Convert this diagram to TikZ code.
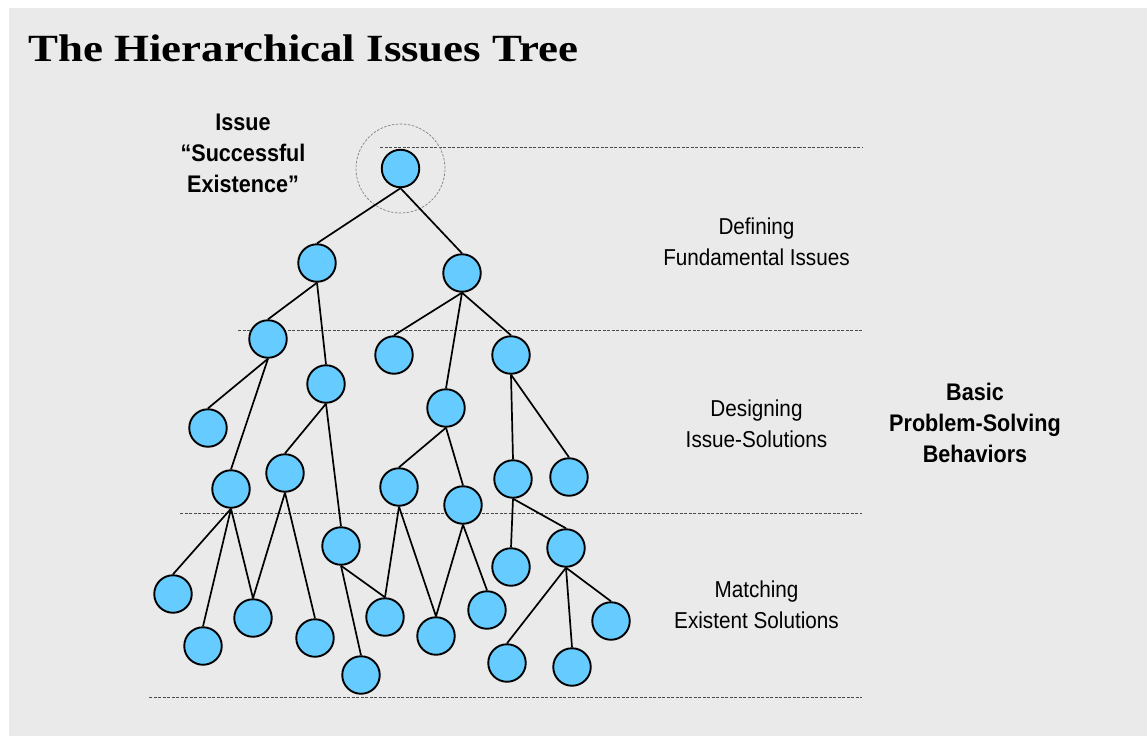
\documentclass[tikz,border=0pt]{standalone}
\usepackage{fontspec}
\usepackage{graphicx}
\setmainfont{Liberation Serif}
\newfontfamily\lsans[FakeStretch=0.9]{Liberation Sans}
\definecolor{bgray}{HTML}{EAEAEA}
\definecolor{nodeblue}{HTML}{66CCFF}
\begin{document}
\begin{tikzpicture}[x=1pt,y=-1pt,
  issue/.style={circle,draw=black,fill=nodeblue,line width=1.9pt,minimum size=37.5pt,inner sep=0pt},
  link/.style={line width=1.7pt},
  levelline/.style={draw=black!70,line width=0.7pt,dash pattern=on 3pt off 1.5pt},
  focus/.style={circle,draw=black!50,line width=0.7pt,dash pattern=on 2.5pt off 1.5pt,minimum size=89pt,inner sep=0pt},
  lbl/.style={font=\lsans\fontsize{23}{30.7}\selectfont,align=center,inner sep=0pt,anchor=base},
  blbl/.style={font=\lsans\bfseries\fontsize{24}{31}\selectfont,align=center,inner sep=0pt,anchor=base}]
\useasboundingbox (0,0) rectangle (1148,736);
\fill[white] (0,0) rectangle (1148,736);
\fill[bgray] (9,8) rectangle (1147,736);

\node[anchor=base west,inner sep=0pt] (title) at (28,61.7)
  {\resizebox{550pt}{\height}{\fontsize{38.5}{42}\selectfont\bfseries The Hierarchical Issues Tree}};

% level separators
\coordinate (l0a) at (380,147); \coordinate (l0b) at (862,147);
\coordinate (l1a) at (238,330); \coordinate (l1b) at (862,330);
\coordinate (l2a) at (180,513); \coordinate (l2b) at (862,513);
\coordinate (l3a) at (149,697); \coordinate (l3b) at (862,697);
\draw[levelline] (l0a) -- (l0b);
\draw[levelline] (l1a) -- (l1b);
\draw[levelline] (l2a) -- (l2b);
\draw[levelline] (l3a) -- (l3b);

% focus ring
\node[focus] (ring) at (400.5,168.5) {};

% nodes
\node[issue] (root) at (400.5,168.5) {};
\node[issue] (A) at (317,263) {};
\node[issue] (B) at (462,273) {};
\node[issue] (C) at (268,339) {};
\node[issue] (D) at (326,384) {};
\node[issue] (E) at (394,355) {};
\node[issue] (F) at (446,408) {};
\node[issue] (G) at (511,355) {};
\node[issue] (H) at (208,428) {};
\node[issue] (I) at (231,489) {};
\node[issue] (J) at (285,473) {};
\node[issue] (K) at (341,546) {};
\node[issue] (L) at (399,487) {};
\node[issue] (M) at (463,505) {};
\node[issue] (N) at (513,479) {};
\node[issue] (O) at (569,477) {};
\node[issue] (P) at (173,594) {};
\node[issue] (Q) at (203,646) {};
\node[issue] (R) at (253,618) {};
\node[issue] (S) at (315,638) {};
\node[issue] (T) at (361,675) {};
\node[issue] (U) at (385,617) {};
\node[issue] (V) at (436,636) {};
\node[issue] (W) at (487,610) {};
\node[issue] (X) at (511,567) {};
\node[issue] (Y) at (566,548) {};
\node[issue] (Z) at (507,663) {};
\node[issue] (AA) at (572,667) {};
\node[issue] (AB) at (611,621) {};

% links
\foreach \p/\c in {root/A,root/B,A/C,A/D,B/E,B/F,B/G,C/H,C/I,D/J,D/K,F/L,F/M,G/N,G/O,
  I/P,I/Q,I/R,J/R,J/S,K/T,K/U,L/U,L/V,M/V,M/W,N/X,N/Y,Y/Z,Y/AA,Y/AB}
  \draw[link] (\p.south) -- (\c.north);

% labels (anchor = baseline of last line)
\node[blbl] (issuelbl) at (243,192) {Issue\\“Successful\\Existence”};
\node[lbl] (deflbl) at (756.5,265) {Defining\\Fundamental Issues};
\node[lbl] (deslbl) at (756.5,447.5) {Designing\\Issue-Solutions};
\node[lbl] (matlbl) at (756.5,628) {Matching\\Existent Solutions};
\node[blbl] (basiclbl) at (975,462.7) {Basic\\Problem-Solving\\Behaviors};
\end{tikzpicture}
\end{document}
